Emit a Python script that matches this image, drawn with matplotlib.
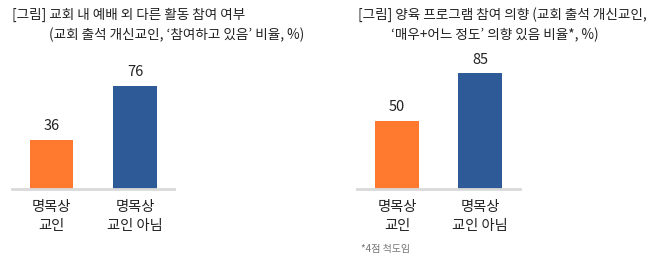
import matplotlib.pyplot as plt

plt.rcParams['font.family'] = ['Noto Sans CJK KR', 'DejaVu Sans']

categories = ["명목상\n교인", "명목상\n교인 아님"]
left_values = [36, 76]
right_values = [50, 85]
colors = ["#FF7A2F", "#2E5B98"]

W, H = 655, 271
fig = plt.figure(figsize=(W / 100, H / 100), dpi=100)


def px_axes(x0, x1, y_base, height_px):
    return fig.add_axes([x0 / W, (H - y_base) / H, (x1 - x0) / W, height_px / H])


def draw(ax, values, xlim):
    x = range(len(values))
    bars = ax.bar(x, values, width=0.52, color=colors)
    for b, v in zip(bars, values):
        ax.text(b.get_x() + b.get_width() / 2, v + 5, str(v), ha='center', va='bottom',
                fontsize=10.5, color='#222222')
    ax.set_xlim(*xlim)
    ax.set_ylim(0, 100)
    for s in ['top', 'right', 'left']:
        ax.spines[s].set_visible(False)
    ax.spines['bottom'].set_color('#D9D9D9')
    ax.spines['bottom'].set_linewidth(2)
    ax.set_yticks([])
    ax.set_xticks(list(x))
    ax.set_xticklabels(categories, fontsize=10.3, linespacing=1.45, color='#222222',
                       fontweight='medium')
    ax.tick_params(axis='x', length=0, pad=8)


ax1 = px_axes(12, 174, 189, 136)
draw(ax1, left_values, (-0.473, 1.467))
ax2 = px_axes(357, 520, 189, 136)
draw(ax2, right_values, (-0.482, 1.482))

fs = 9.8
fig.text(12 / W, 1 - 15 / H, "[그림] 교회 내 예배 외 다른 활동 참여 여부", fontsize=fs,
         ha='left', va='center', color='#222222')
fig.text(49 / W, 1 - 35 / H, "(교회 출석 개신교인, ‘참여하고 있음’ 비율, %)", fontsize=fs,
         ha='left', va='center', color='#222222')
fig.text(358 / W, 1 - 15 / H, "[그림] 양육 프로그램 참여 의향 (교회 출석 개신교인,", fontsize=fs,
         ha='left', va='center', color='#222222')
fig.text(391 / W, 1 - 35 / H, "‘매우+어느 정도’ 의향 있음 비율*, %)", fontsize=fs,
         ha='left', va='center', color='#222222')
fig.text(361 / W, 1 - 249 / H, "*4점 척도임", fontsize=7.2, ha='left', va='center', color='#777777')

fig.savefig("out.png", dpi=100)
